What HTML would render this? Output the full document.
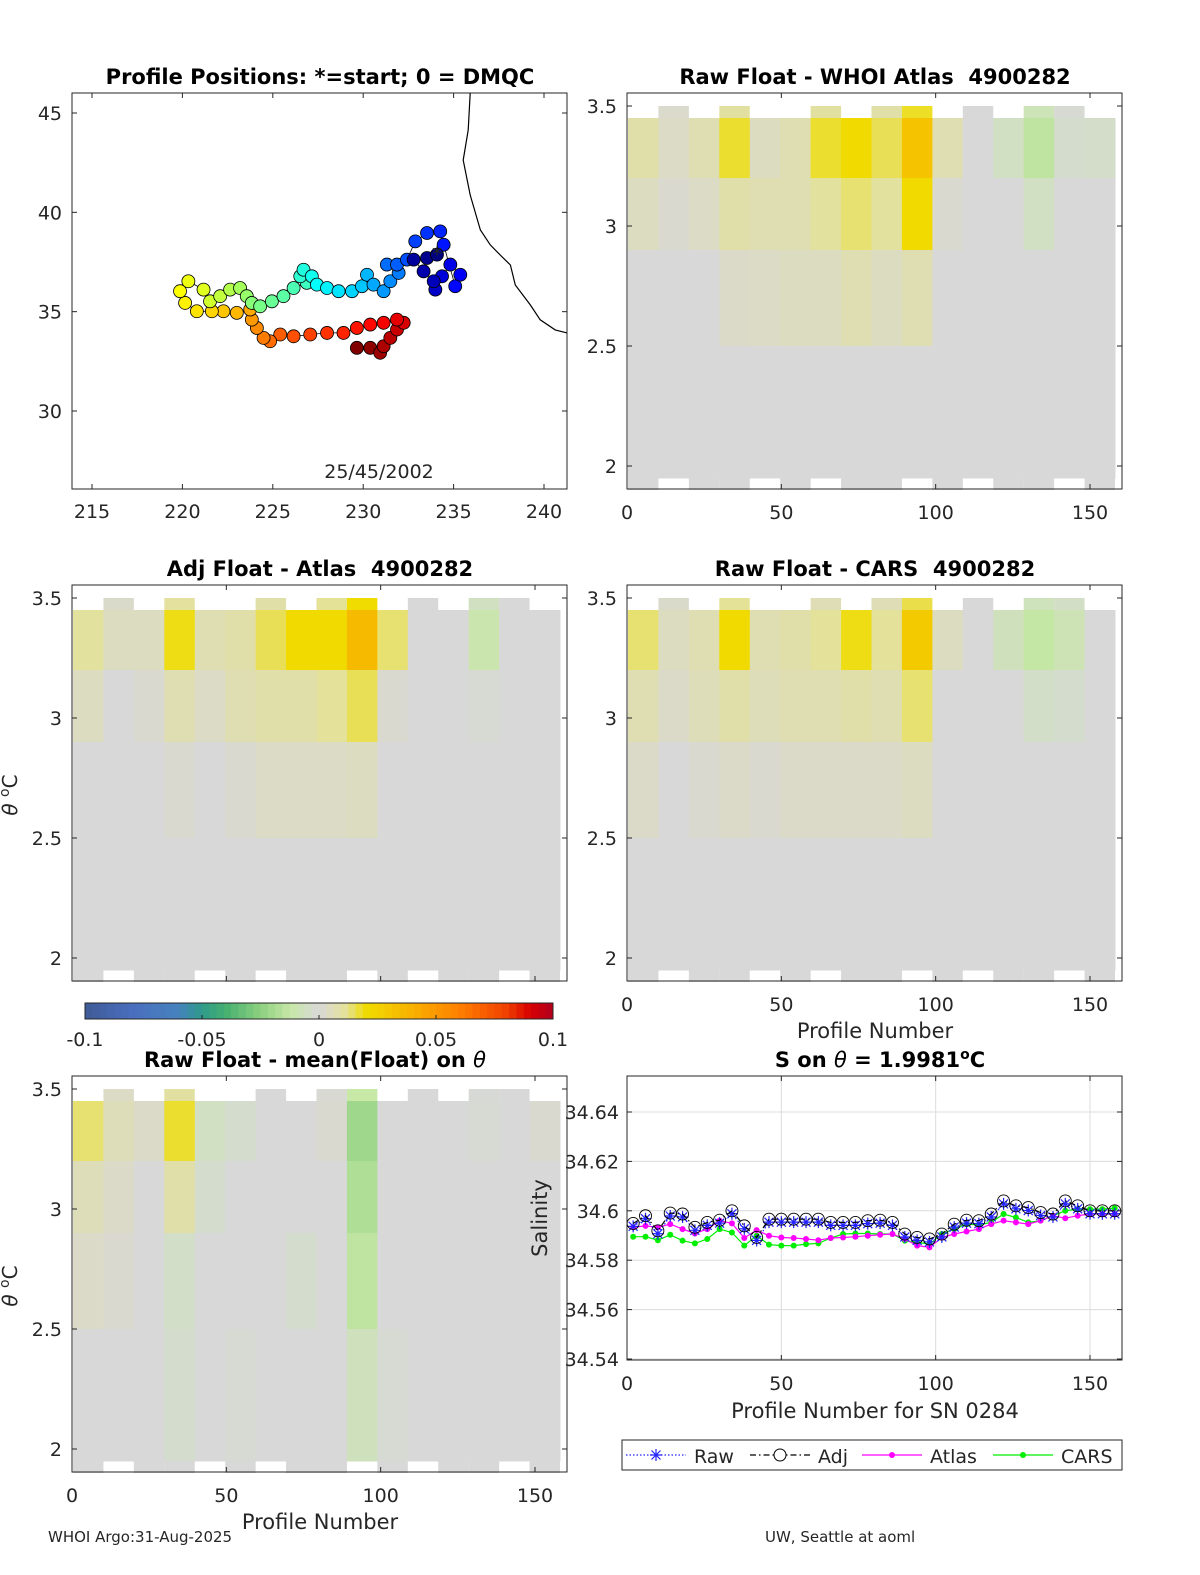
<!DOCTYPE html>
<html><head><meta charset="utf-8"><style>
html,body{margin:0;padding:0;background:#fff;overflow:hidden;width:1200px;height:1575px}
svg{display:block}
text{font-family:"DejaVu Sans","Liberation Sans",sans-serif;fill:#262626}
.t{font-size:19px}
.ttl{font-size:21px;font-weight:bold;fill:#000}
</style></head><body>
<svg id="fig" width="1200" height="1575" viewBox="0 0 1200 1575" xmlns="http://www.w3.org/2000/svg">
<g id="layer"></g>
</svg>
<script>
// ---------- DATA ----------
const mapLon=[234.08,233.53,232.79,233.34,233.90,233.99,234.36,234.82,235.37,235.09,234.45,234.26,233.53,232.88,232.42,231.87,231.31,231.96,231.50,231.13,230.57,230.21,229.93,229.38,228.64,228.00,227.44,227.16,226.70,226.52,226.88,226.15,225.59,224.95,224.30,223.84,223.56,223.19,222.64,222.09,221.53,221.17,220.33,219.87,220.15,220.80,221.63,222.27,223.01,223.75,223.84,224.12,224.49,224.85,225.41,226.15,227.07,228.00,228.91,229.65,230.39,231.13,231.87,232.24,231.87,231.50,231.13,230.94,230.39,229.65];
const mapLat=[37.87,37.70,37.62,37.03,36.53,36.11,36.78,37.37,36.86,36.28,38.37,39.04,38.96,38.54,37.62,37.37,37.37,36.95,36.53,36.03,36.36,36.86,36.28,36.03,36.03,36.19,36.36,36.78,37.11,36.78,36.45,36.19,35.78,35.52,35.27,35.44,35.78,36.19,36.11,35.78,35.52,36.11,36.53,36.03,35.44,35.02,35.02,35.02,34.94,35.11,34.60,34.18,33.68,33.51,33.85,33.76,33.85,33.93,33.93,34.18,34.35,34.44,34.60,34.44,34.10,33.68,33.26,32.93,33.18,33.18];
const coastLon=[235.92,235.81,235.53,235.92,236.48,237.03,237.58,238.14,238.41,239.24,239.79,240.62,241.28];
const coastLat=[46.0,44.14,42.63,40.87,39.11,38.36,37.85,37.35,36.34,35.34,34.59,34.08,33.93];
const mapXTicks=[215,220,225,230,235,240];
const mapYTicks=[30,35,40,45];
const thetaTicks=[2,2.5,3,3.5];
const profTicks=[0,50,100,150];
const thetaBands=[3.45,3.2,2.9,2.5,1.95];
const rawWhoi=[[.012,.006,0,0],[.005,.002,0,0],[.01,.005,0,0],[.025,.012,.004,0],[.006,.01,.005,0],[.01,.01,.006,0],[.025,.015,.006,0],[.03,.02,.01,0],[.022,.015,.006,0],[.045,.03,.01,0],[.01,.002,0,0],[0,0,0,0],[-.008,0,0,0],[-.02,-.008,0,0],[-.004,0,0,0],[-.005,0,0,0]];
const adjAtlas=[[.015,.006,0,0],[.006,0,0,0],[.006,.002,0,0],[.027,.01,.002,0],[.01,.005,0,0],[.012,.01,.002,0],[.022,.012,.005,0],[.03,.012,.005,0],[.03,.016,.005,0],[.05,.022,.006,0],[.02,.002,0,0],[0,0,0,0],[0,0,0,0],[-.015,-.002,0,0],[0,0,0,0],[0,0,0,0]];
const rawCars=[[.02,.01,.004,0],[.006,.004,0,0],[.01,.008,.002,0],[.03,.012,.004,0],[.01,.008,.002,0],[.012,.01,.004,0],[.016,.01,.004,0],[.027,.012,.004,0],[.016,.01,.004,0],[.04,.02,.006,0],[.006,0,0,0],[0,0,0,0],[-.01,0,0,0],[-.018,-.006,0,0],[-.012,-.004,0,0],[0,0,0,0]];
const rawMean=[[.02,.008,.004,0],[.008,.004,.002,0],[.004,0,0,0],[.025,.012,-.006,-.004],[-.008,-.004,0,0],[-.004,0,0,-.002],[0,0,0,0],[0,0,-.004,0],[.002,0,0,0],[-.03,-.025,-.02,-.01],[0,0,0,-.002],[0,0,0,0],[0,0,0,0],[-.002,0,0,0],[0,0,0,0],[.002,0,0,0]];
const salProf=[2,6,10,14,18,22,26,30,34,38,42,46,50,54,58,62,66,70,74,78,82,86,90,94,98,102,106,110,114,118,122,126,130,134,138,142,146,150,154,158];
const salAdj=[34.5949,34.5980,34.5919,34.5991,34.5987,34.5933,34.5953,34.5962,34.6000,34.5939,34.5892,34.5966,34.5966,34.5966,34.5966,34.5966,34.5953,34.5953,34.5953,34.5960,34.5962,34.5953,34.5906,34.5892,34.5886,34.5906,34.5946,34.5962,34.5960,34.5987,34.6040,34.6020,34.6013,34.5993,34.5987,34.6040,34.6020,34.6000,34.6000,34.6000];
const salRaw=[34.5937,34.5968,34.5907,34.5979,34.5975,34.5921,34.5941,34.5950,34.5988,34.5927,34.5880,34.5954,34.5954,34.5954,34.5954,34.5954,34.5941,34.5941,34.5941,34.5948,34.5950,34.5941,34.5894,34.5880,34.5874,34.5894,34.5934,34.5950,34.5948,34.5975,34.6028,34.6008,34.6001,34.5981,34.5975,34.6028,34.6008,34.5988,34.5988,34.5988];
const salAtlas=[34.5933,34.5939,34.5933,34.5946,34.5926,34.5908,34.5926,34.5960,34.5949,34.5890,34.5922,34.5899,34.5892,34.5890,34.5886,34.5881,34.5890,34.5892,34.5895,34.5899,34.5903,34.5906,34.5886,34.5859,34.5852,34.5892,34.5906,34.5916,34.5926,34.5946,34.5960,34.5953,34.5946,34.5960,34.5980,34.5970,34.5980,34.5987,34.5987,34.5987];
const salCars=[34.5895,34.5895,34.5881,34.5903,34.5879,34.5868,34.5886,34.5926,34.5912,34.5859,34.5899,34.5863,34.5859,34.5859,34.5865,34.5868,34.5890,34.5906,34.5908,34.5908,34.5906,34.5906,34.5879,34.5872,34.5865,34.5906,34.5926,34.5946,34.5943,34.5953,34.5987,34.5973,34.5953,34.5960,34.5980,34.6000,34.6007,34.6007,34.6007,34.6011];
const salTicks=[34.54,34.56,34.58,34.6,34.62,34.64];
const cbTicks=[-0.1,-0.05,0,0.05,0.1];
const cbLabels=["-0.1","-0.05","0","0.05","0.1"];

// ---------- HELPERS ----------
const NS="http://www.w3.org/2000/svg";
const root=document.getElementById('layer');
function mk(tag,attrs,parent,txt){const e=document.createElementNS(NS,tag);for(const k in attrs)e.setAttribute(k,attrs[k]);if(txt!==undefined)e.textContent=txt;(parent||root).appendChild(e);return e;}
function lin(d0,d1,r0,r1){return v=>r0+(v-d0)*(r1-r0)/(d1-d0);}
const stops=[[-0.1,[63,90,150]],[-0.08,[74,110,190]],[-0.06,[70,130,190]],[-0.05,[46,155,138]],[-0.04,[69,176,112]],[-0.025,[141,208,128]],[-0.012,[200,232,168]],[0,[216,216,216]],[0.012,[228,226,150]],[0.02,[240,220,0]],[0.04,[248,176,0]],[0.06,[255,128,0]],[0.08,[240,64,0]],[0.09,[216,0,0]],[0.1,[176,0,32]]];
function cmap(v){v=Math.max(-0.1,Math.min(0.1,v));for(let i=1;i<stops.length;i++){if(v<=stops[i][0]){const a=stops[i-1],b=stops[i],t=(v-a[0])/(b[0]-a[0]);const c=a[1].map((x,j)=>Math.round(x+(b[1][j]-x)*t));return `rgb(${c})`;}}return 'rgb(176,0,32)';}
function jet(t){const r=Math.max(0,Math.min(1,1.5-Math.abs(4*t-3))),g=Math.max(0,Math.min(1,1.5-Math.abs(4*t-2))),b=Math.max(0,Math.min(1,1.5-Math.abs(4*t-1)));return `rgb(${Math.round(r*255)},${Math.round(g*255)},${Math.round(b*255)})`;}
function frame(g,x0,y0,x1,y1,name){const r=mk('rect',{x:x0,y:y0,width:x1-x0,height:y1-y0,fill:'none',stroke:'#262626','stroke-width':1},g);}
function xticks(g,ticks,sx,y0,y1,labels,lblY){ticks.forEach((t,i)=>{const x=sx(t);mk('line',{x1:x,x2:x,y1:y1,y2:y1-5,stroke:'#262626'},g);mk('line',{x1:x,x2:x,y1:y0,y2:y0+5,stroke:'#262626'},g);if(labels){const tx=mk('text',{x:x,y:lblY,'text-anchor':'middle',class:'t'},g,labels[i]);}});}
function yticks(g,ticks,sy,x0,x1,labels,lblX){ticks.forEach((t,i)=>{const y=sy(t);mk('line',{x1:x0,x2:x0+5,y1:y,y2:y,stroke:'#262626'},g);mk('line',{x1:x1,x2:x1-5,y1:y,y2:y,stroke:'#262626'},g);if(labels){const tx=mk('text',{x:lblX,y:y+7,'text-anchor':'end',class:'t'},g,labels[i]);}});}
function title(x,y,s,name){const t=mk('text',{x:x,y:y,'text-anchor':'middle',class:'ttl'},root,s);return t;}

// ---------- MAP ----------
(function(){
const g=mk('g',{});
const sx=lin(215,240,92,544), sy=lin(45,30,113,411);
const cp=coastLon.map((l,i)=>`${sx(l).toFixed(1)},${sy(coastLat[i]).toFixed(1)}`).join(' ');
const coast=mk('polyline',{points:cp,fill:'none',stroke:'#000','stroke-width':1.2},g);

const tp=mapLon.map((l,i)=>`${sx(l).toFixed(1)},${sy(mapLat[i]).toFixed(1)}`).join(' ');
mk('polyline',{points:tp,fill:'none',stroke:'#000','stroke-width':0.8},g);
const n=mapLon.length;
for(let i=n-1;i>=0;i--){const c=mk('circle',{cx:sx(mapLon[i]),cy:sy(mapLat[i]),r:6.5,fill:jet(i/(n-1)),stroke:'#000','stroke-width':0.8},g);}
const st=mk('text',{x:sx(mapLon[0]),y:sy(mapLat[0])+7,'text-anchor':'middle','font-size':'20px',fill:'#fff'},g,'*');
mk('rect',{x:567,y:90,width:60,height:400,fill:'#fff'},g);
frame(g,72,93,567,489,'map-axes');
xticks(g,mapXTicks,sx,93,489,mapXTicks.map(String),518);
yticks(g,mapYTicks,sy,72,567,mapYTicks.map(String),62);
const d=mk('text',{x:379,y:478,'text-anchor':'middle',class:'t'},g,'25/45/2002');
title(320,84,'Profile Positions: *=start; 0 = DMQC','map-title');
})();

// ---------- HEATMAPS ----------
const CSCALE=0.7;
function heat(x0,y0,data,name,showX,xlab,ylab){
const x1=x0+495,y1=y0+396;
const g=mk('g',{});
const sx=lin(0,150,x0,x0+463), sy=lin(3.5,2,y0+13,y0+373);
const gx=lin(0,160,x0+1,x0+488);
data.forEach((col,ci)=>{col.forEach((v,bi)=>{const ya=sy(thetaBands[bi]),yb=sy(thetaBands[bi+1]);const r=mk('rect',{x:gx(ci*10).toFixed(1),y:ya.toFixed(1),width:(gx(ci*10+10)-gx(ci*10)+0.5).toFixed(1),height:(yb-ya+0.5).toFixed(1),fill:cmap(v*CSCALE)},g);});});
[1,3,6,8,9,11,13,14].forEach(ci=>{mk('rect',{x:gx(ci*10),y:sy(3.5),width:gx(10)-gx(0),height:sy(3.45)-sy(3.5),fill:cmap(data[ci][0]*0.4)},g);});
[0,2,3,5,7,8,10,12,13,15].forEach(ci=>{mk('rect',{x:gx(ci*10),y:sy(1.95),width:gx(10)-gx(0),height:sy(1.9)-sy(1.95),fill:'#d8d8d8'},g);});
frame(g,x0,y0,x1,y1,name+'-axes');
xticks(g,profTicks,sx,y0,y1,showX?profTicks.map(String):null,y1+30);
yticks(g,thetaTicks,sy,x0,x1,thetaTicks.map(String),x0-10);
if(xlab){const t=mk('text',{x:x0+248,y:y1+57,'text-anchor':'middle','font-size':'21px'},g,'Profile Number');}
if(ylab){const t=mk('text',{x:0,y:0,'text-anchor':'middle','font-size':'20px',transform:`translate(17,${y0+210}) rotate(-90)`},g);t.innerHTML='<tspan font-style="italic">θ</tspan> <tspan baseline-shift="super" font-size="14">o</tspan>C';}
}
heat(627,93,rawWhoi,'raw-whoi-panel',true,false,false);
title(875,84,'Raw Float - WHOI Atlas\u00a0 4900282','raw-whoi-title');
heat(72,585,adjAtlas,'adj-atlas-panel',false,false,true);
title(320,576,'Adj Float - Atlas\u00a0 4900282','adj-atlas-title');
heat(627,585,rawCars,'raw-cars-panel',true,true,false);
title(875,576,'Raw Float - CARS\u00a0 4900282','raw-cars-title');
heat(72,1076,rawMean,'raw-mean-panel',true,true,true);
{const t=title(315,1067,'','raw-mean-title');t.innerHTML='Raw Float - mean(Float) on <tspan font-style="italic" font-weight="normal">θ</tspan>';}

// ---------- COLORBAR ----------
(function(){
const g=mk('g',{});
const sx=lin(-0.1,0.1,85,553);const N=64;
for(let i=0;i<N;i++){const v=-0.1+(i+0.5)*0.2/N;mk('rect',{x:sx(-0.1+i*0.2/N),y:1003,width:468/N+0.4,height:16,fill:cmap(v)},g);}
mk('rect',{x:85,y:1003,width:468,height:16,fill:'none',stroke:'#262626'},g);
cbTicks.forEach((t,i)=>{const x=sx(t);mk('line',{x1:x,x2:x,y1:1019,y2:1015,stroke:'#262626'},g);const tx=mk('text',{x:x,y:1046,'text-anchor':'middle',class:'t'},g,cbLabels[i]);});
})();

// ---------- SALINITY ----------
(function(){
const g=mk('g',{});
const x0=627,x1=1122,y0=1076,y1=1360;
const sx=lin(0,150,627,1090), sy=lin(34.54,34.64,1359,1112);
profTicks.forEach(t=>{if(t>0)mk('line',{x1:sx(t),x2:sx(t),y1:y0,y2:y1,stroke:'#dcdcdc'},g);});
salTicks.forEach(t=>mk('line',{x1:x0,x2:x1,y1:sy(t),y2:sy(t),stroke:'#dcdcdc'},g));
function line(vals,color,dash,name){const p=salProf.map((pr,i)=>`${sx(pr).toFixed(1)},${sy(vals[i]).toFixed(1)}`).join(' ');const l=mk('polyline',{points:p,fill:'none',stroke:color,'stroke-width':1.2,'stroke-dasharray':dash||'none'},g);}
line(salCars,'#00ee00',null,'cars-line');
salProf.forEach((pr,i)=>{const c=mk('circle',{cx:sx(pr),cy:sy(salCars[i]),r:3,fill:'#00ee00'},g);});
line(salAtlas,'#ff00ff',null,'atlas-line');
salProf.forEach((pr,i)=>{const c=mk('circle',{cx:sx(pr),cy:sy(salAtlas[i]),r:3,fill:'#ff00ff'},g);});
line(salRaw,'#2222ff','1.5,2','raw-line');
salProf.forEach((pr,i)=>{const x=sx(pr),y=sy(salRaw[i]);const s=mk('path',{d:`M${x-6},${y}H${x+6}M${x},${y-6}V${y+6}M${x-4.5},${y-4.5}L${x+4.5},${y+4.5}M${x-4.5},${y+4.5}L${x+4.5},${y-4.5}`,stroke:'#2222ff','stroke-width':1.2},g);});
line(salAdj,'#000','6,3,1.5,3','adj-line');
salProf.forEach((pr,i)=>{const c=mk('circle',{cx:sx(pr),cy:sy(salAdj[i]),r:6,fill:'none',stroke:'#000','stroke-width':0.9},g);});
frame(g,x0,y0,x1,y1,'salinity-axes');
xticks(g,profTicks,sx,y0,y1,profTicks.map(String),y1+30);
yticks(g,salTicks,sy,x0,x1,salTicks.map(String),619);
const yl=mk('text',{x:0,y:0,'text-anchor':'middle','font-size':'21px',transform:'translate(547,1218) rotate(-90)'},g,'Salinity');
const xl=mk('text',{x:875,y:1418,'text-anchor':'middle','font-size':'21px'},g,'Profile Number for SN 0284');
const tt=title(880,1067,'','salinity-title');tt.innerHTML='S on <tspan font-style="italic" font-weight="normal">θ</tspan> = 1.9981<tspan baseline-shift="super" font-size="14">o</tspan>C';
const lg=mk('g',{},g);
mk('rect',{x:622,y:1440,width:500,height:30,fill:'#fff',stroke:'#262626'},lg);
const ents=[['Raw','#2222ff','1.5,2',626],['Adj','#000','6,3,1.5,3',750],['Atlas','#ff00ff',null,862],['CARS','#00ee00',null,993]];
ents.forEach(e=>{const eg=mk('g',{},lg);const x=e[3];mk('line',{x1:x,x2:x+60,y1:1455,y2:1455,stroke:e[1],'stroke-width':1.2,'stroke-dasharray':e[2]||'none'},eg);const cx=x+30;
if(e[0]==='Raw')mk('path',{d:`M${cx-6},1455H${cx+6}M${cx},1449V1461M${cx-4.5},1450.5L${cx+4.5},1459.5M${cx-4.5},1459.5L${cx+4.5},1450.5`,stroke:e[1],'stroke-width':1.2},eg);
else if(e[0]==='Adj')mk('circle',{cx:cx,cy:1455,r:6,fill:'#fff',stroke:'#000'},eg);
else mk('circle',{cx:cx,cy:1455,r:3,fill:e[1]},eg);
mk('text',{x:x+68,y:1463,class:'t','font-size':'20px'},eg,e[0]);});
})();

{const a=mk('text',{x:48,y:1542,'font-size':'15px'},root,'WHOI Argo:31-Aug-2025');
const b=mk('text',{x:765,y:1542,'font-size':'15px'},root,'UW, Seattle at aoml');}
</script>
</body></html>
